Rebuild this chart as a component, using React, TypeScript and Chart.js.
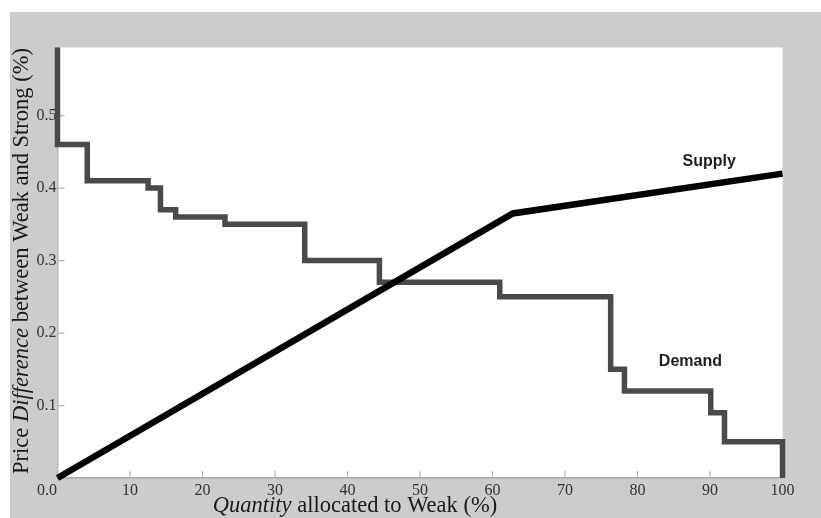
import React, { useEffect, useRef } from "react";
import { Chart, registerables } from "chart.js";

Chart.register(...registerables);

// Demand curve: step points (level y starts at its x and holds until the next x)
const DEMAND_X = [0, 0, 4.1, 12.5, 14.2, 16.3, 23.1, 34.1, 44.4, 61.0, 76.3, 78.2, 90.1, 92.0, 100, 100];
const DEMAND_Y = [0.6, 0.46, 0.41, 0.40, 0.37, 0.36, 0.35, 0.30, 0.27, 0.25, 0.15, 0.12, 0.09, 0.05, 0.05, 0];

// Supply curve
const SUPPLY_X = [0, 62.8, 100];
const SUPPLY_Y = [0, 0.365, 0.42];

const X_TICKS = [0, 10, 20, 30, 40, 50, 60, 70, 80, 90, 100];
const Y_TICKS = [0, 0.1, 0.2, 0.3, 0.4, 0.5];
const X_MIN = 0;
const X_MAX = 100;
const Y_MIN = 0;
const Y_MAX = 0.594;

const CORNER_LABEL = "0.0";
const Y_TITLE: [string, boolean][] = [
  ["Price ", false],
  ["Difference", true],
  [" between Weak and Strong (%)", false],
];
const X_TITLE: [string, boolean][] = [
  ["Quantity", true],
  [" allocated to Weak (%)", false],
];
const CURVE_LABELS = [
  { text: "Supply", x: 89.9, y: 0.436 },
  { text: "Demand", x: 87.3, y: 0.16 },
];

const SERIF = "'Liberation Serif', 'Times New Roman', serif";
const SANS = "'Liberation Sans', Arial, sans-serif";

function drawMixed(
  ctx: CanvasRenderingContext2D,
  parts: [string, boolean][],
  size: number,
  cx: number,
  baseline: number
) {
  const fonts = parts.map(([, it]) => `${it ? "italic " : ""}${size}px ${SERIF}`);
  let total = 0;
  const widths = parts.map(([t], i) => {
    ctx.font = fonts[i];
    const w = ctx.measureText(t).width;
    total += w;
    return w;
  });
  let x = cx - total / 2;
  ctx.textBaseline = "alphabetic";
  ctx.textAlign = "left";
  parts.forEach(([t], i) => {
    ctx.font = fonts[i];
    ctx.fillText(t, x, baseline);
    x += widths[i];
  });
}

const decorPlugin = {
  id: "decor",
  beforeDraw(chart: any) {
    const { ctx, chartArea: a } = chart;
    ctx.save();
    ctx.fillStyle = "#ffffff";
    ctx.fillRect(a.left, a.top, a.right - a.left, a.bottom - a.top);
    ctx.restore();
  },
  beforeDatasetsDraw(chart: any) {
    const { ctx, chartArea: a, scales } = chart;
    ctx.save();
    ctx.strokeStyle = "#b4b4b4";
    ctx.lineWidth = 1.2;
    ctx.beginPath();
    X_TICKS.forEach((v) => {
      if (v === 0) return;
      const px = scales.x.getPixelForValue(v);
      ctx.moveTo(px, a.bottom);
      ctx.lineTo(px, a.bottom - 7);
    });
    Y_TICKS.forEach((v) => {
      if (v === 0) return;
      const py = scales.y.getPixelForValue(v);
      ctx.moveTo(a.left, py);
      ctx.lineTo(a.left + 7, py);
    });
    ctx.stroke();
    ctx.restore();
  },
  afterDatasetsDraw(chart: any) {
    const { ctx, chartArea: a, scales } = chart;
    ctx.save();
    // curve labels
    ctx.fillStyle = "#1e1e1e";
    ctx.font = `bold 16px ${SANS}`;
    ctx.textAlign = "center";
    ctx.textBaseline = "middle";
    CURVE_LABELS.forEach((l) => {
      ctx.fillText(l.text, scales.x.getPixelForValue(l.x), scales.y.getPixelForValue(l.y));
    });
    // corner 0.0
    ctx.fillStyle = "#333333";
    ctx.font = `16px ${SERIF}`;
    ctx.textAlign = "right";
    ctx.textBaseline = "middle";
    ctx.fillText(CORNER_LABEL, a.left - 0.5, a.bottom + 13);
    // axis titles
    ctx.fillStyle = "#1a1a1a";
    drawMixed(ctx, X_TITLE, 22.5, 345, 500);
    ctx.translate(18, 249);
    ctx.rotate(-Math.PI / 2);
    drawMixed(ctx, Y_TITLE, 22.5, 0, 0);
    ctx.restore();
  },
};

export default function App() {
  const ref = useRef<HTMLCanvasElement | null>(null);

  useEffect(() => {
    if (!ref.current) return;
    const demand = DEMAND_X.map((x, i) => ({ x, y: DEMAND_Y[i] }));
    const supply = SUPPLY_X.map((x, i) => ({ x, y: SUPPLY_Y[i] }));
    const clip = { left: 6, top: 0, right: 6, bottom: 6 };
    const chart = new Chart(ref.current, {
      type: "line",
      data: {
        datasets: [
          {
            label: "Supply",
            data: supply,
            borderColor: "#000000",
            borderWidth: 6.5,
            pointRadius: 0,
            fill: false,
            tension: 0,
            borderJoinStyle: "miter",
            borderCapStyle: "butt",
            clip,
          } as any,
          {
            label: "Demand",
            data: demand,
            stepped: "before",
            borderColor: "#4a4a4a",
            borderWidth: 5.5,
            pointRadius: 0,
            fill: false,
            borderJoinStyle: "miter",
            borderCapStyle: "butt",
            clip,
          } as any,
        ],
      },
      options: {
        animation: false,
        responsive: false,
        devicePixelRatio: 1,
        layout: { padding: { left: 0, top: 35.5, right: 38.5, bottom: 0 } },
        plugins: {
          legend: { display: false },
          tooltip: { enabled: false },
        },
        scales: {
          x: {
            type: "linear",
            min: X_MIN,
            max: X_MAX,
            afterBuildTicks: (s: any) => {
              s.ticks = X_TICKS.map((v) => ({ value: v }));
            },
            afterFit: (s: any) => {
              s.height = 40;
            },
            grid: { display: false, drawTicks: false },
            border: { display: true, color: "#a8a8a8", width: 1.5 },
            ticks: {
              padding: 3,
              color: "#333333",
              font: { family: SERIF, size: 16 },
              maxRotation: 0,
              autoSkip: false,
              callback: (v: any) => (Number(v) === 0 ? "" : String(v)),
            },
          },
          y: {
            type: "linear",
            min: Y_MIN,
            max: Y_MAX,
            afterBuildTicks: (s: any) => {
              s.ticks = Y_TICKS.map((v) => ({ value: v }));
            },
            afterFit: (s: any) => {
              s.width = 47.5;
            },
            grid: { display: false, drawTicks: false },
            border: { display: true, color: "#b8b8b8", width: 1.5 },
            ticks: {
              padding: 1,
              color: "#333333",
              font: { family: SERIF, size: 16 },
              autoSkip: false,
              callback: (v: any) => (Number(v) === 0 ? "" : Number(v).toFixed(1)),
            },
          },
        },
      },
      plugins: [decorPlugin],
    });
    return () => chart.destroy();
  }, []);

  return (
    <div
      style={{
        position: "fixed",
        left: 0,
        top: 0,
        width: 821,
        height: 518,
        background: "#ffffff",
        overflow: "hidden",
      }}
    >
      <canvas
        ref={ref}
        width={811}
        height={506}
        style={{
          position: "absolute",
          left: 10,
          top: 12,
          width: 811,
          height: 506,
          background: "#cccccc",
        }}
      />
    </div>
  );
}
